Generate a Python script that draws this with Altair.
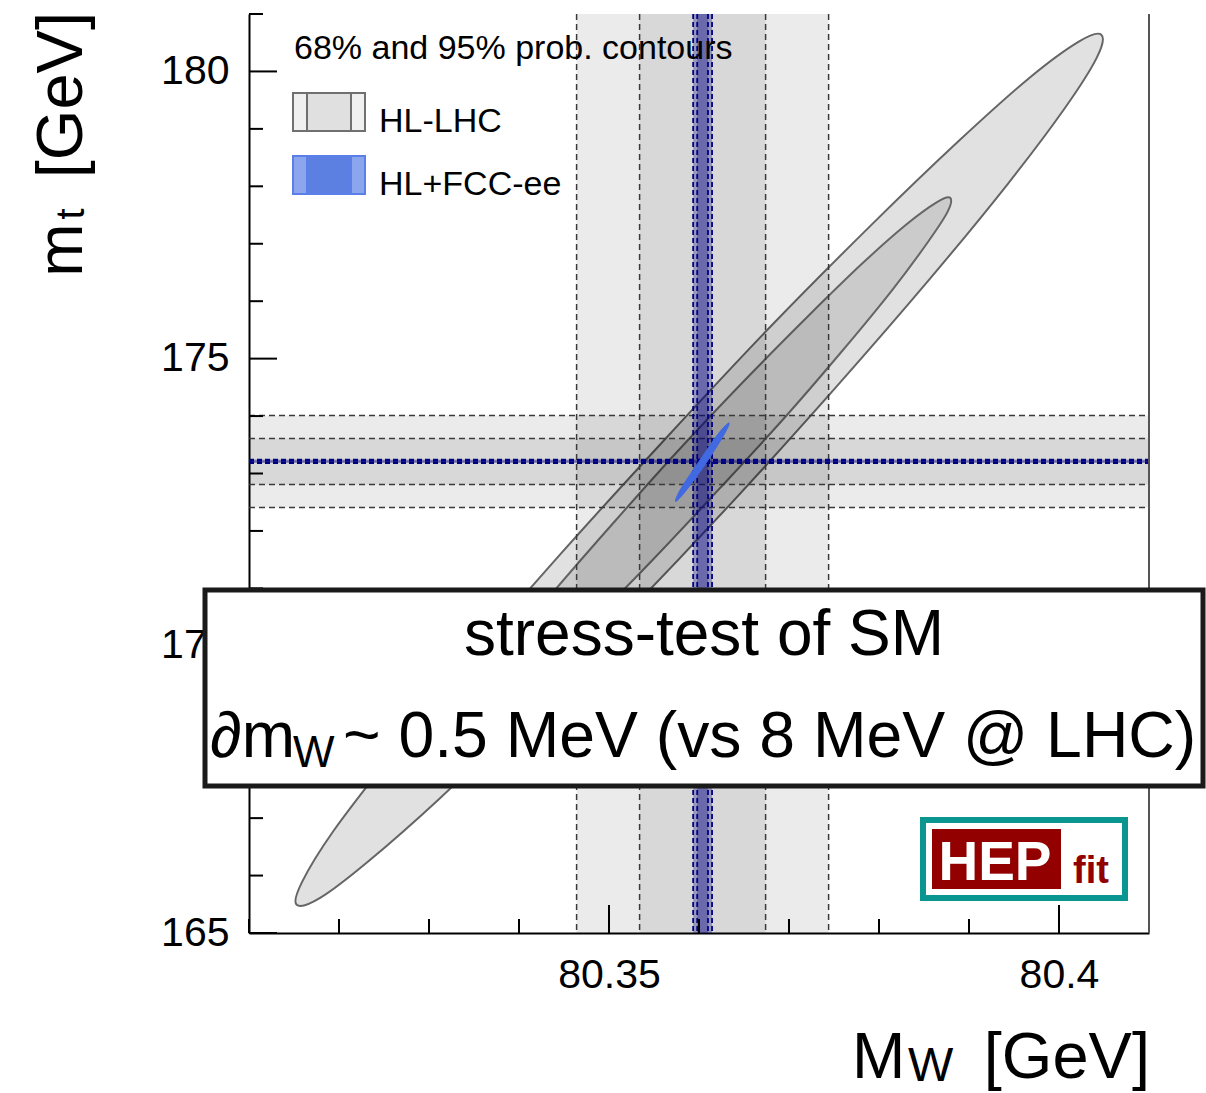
import altair as alt
import pandas as pd

# ---------------- data ----------------
MW_DOMAIN = [80.31, 80.41]
MT_DOMAIN = [165.0, 181.0]

MW_MAJOR = [80.35, 80.40]
MW_MINOR = [80.31, 80.32, 80.33, 80.34, 80.36, 80.37, 80.38, 80.39, 80.41]
MT_MAJOR = [165, 170, 175, 180]
MT_MINOR = [166, 167, 168, 169, 171, 172, 173, 174, 176, 177, 178, 179, 181]

# HL-LHC 95% probability contour (traced boundary points, in order)
HL95_MW = [80.4047, 80.4042, 80.4006, 80.3943, 80.3856, 80.3752, 80.3638, 80.3521,
           80.3409, 80.3311, 80.3232, 80.3179, 80.3153, 80.3159, 80.3194, 80.3258,
           80.3344, 80.3448, 80.3563, 80.3679, 80.3791, 80.3890, 80.3968, 80.4022]
HL95_MT = [180.64, 180.24, 179.35, 178.04, 176.38, 174.50, 172.52, 170.58,
           168.81, 167.33, 166.24, 165.61, 165.49, 165.89, 166.78, 168.09,
           169.75, 171.63, 173.61, 175.55, 177.32, 178.81, 179.90, 180.52]

# HL-LHC 68% probability contour
HL68_MW = [80.3879, 80.3876, 80.3853, 80.3814, 80.3760, 80.3695, 80.3623, 80.3550,
           80.3481, 80.3419, 80.3370, 80.3337, 80.3321, 80.3325, 80.3347, 80.3387,
           80.3441, 80.3506, 80.3577, 80.3650, 80.3720, 80.3781, 80.3830, 80.3864]
HL68_MT = [177.80, 177.55, 177.00, 176.18, 175.15, 173.97, 172.74, 171.52,
           170.42, 169.49, 168.81, 168.41, 168.34, 168.58, 169.14, 169.96,
           170.99, 172.16, 173.40, 174.61, 175.72, 176.65, 177.33, 177.72]

# HL+FCC-ee contour
FCC_MW = [80.36335, 80.3627, 80.3607, 80.3585, 80.3574, 80.3580, 80.3601, 80.3622]
FCC_MT = [173.880, 173.655, 173.162, 172.690, 172.514, 172.739, 173.232, 173.704]

# one-dimensional bands: centre, 68% half-width, 95% half-width
HL_MW_BAND = [80.3604, 0.0070, 0.0140]
HL_MT_BAND = [173.21, 0.40, 0.80]
FCC_MW_BAND = [80.3604, 0.0006, 0.00105]
FCC_MT_BAND = [173.213, 0.015, 0.030]

LEGEND_HEADER = "68% and 95% prob. contours"
LEGEND_LABELS = ["HL-LHC", "HL+FCC-ee"]
BOX_LINE1 = "stress-test of SM"
BOX_LINE2_A = "\u2202m"
BOX_LINE2_SUB = "W"
BOX_LINE2_B = "~ 0.5 MeV (vs 8 MeV @ LHC)"

# ---------------- helpers ----------------
W, H = 900, 919
FONT = "Liberation Sans"
xs = alt.Scale(domain=MW_DOMAIN, nice=False, zero=False)
ys = alt.Scale(domain=MT_DOMAIN, nice=False, zero=False)

XAX = alt.Axis(values=MW_MAJOR, format=".4~g", ticks=False, tickSize=0,
               labelPadding=22, labelFontSize=41, labelFont=FONT,
               labelColor="black", labelFlush=False, labelOverlap=False,
               domainColor="black", domainWidth=2, grid=False, title=None)
YAX = alt.Axis(values=MT_MAJOR, format="d", ticks=False, tickSize=0,
               labelPadding=20, labelFontSize=41, labelFont=FONT,
               labelColor="black", labelFlush=False, labelOverlap=False,
               domainColor="black", domainWidth=2, grid=False, title=None)


def X(field):
    return alt.X(field, scale=xs, axis=XAX)


def Y(field):
    return alt.Y(field, scale=ys, axis=YAX)


def contour(mw, mt, fill, stroke, sw):
    df = pd.DataFrame({"mw": mw, "mt": mt, "i": list(range(len(mw)))})
    return alt.Chart(df).mark_line(
        fill=fill, stroke=stroke, strokeWidth=sw, interpolate="cardinal-closed"
    ).encode(x=X("mw:Q"), y=Y("mt:Q"), order=alt.Order("i:Q"))


def vband(band, color, opacity):
    c, h68, h95 = band
    df = pd.DataFrame({"lo": [c - h95, c - h68], "hi": [c + h95, c + h68]})
    return alt.Chart(df).mark_rect(fill=color, fillOpacity=opacity).encode(
        x=X("lo:Q"), x2="hi:Q", y=alt.value(0), y2=alt.value(H))


def hband(band, color, opacity):
    c, h68, h95 = band
    df = pd.DataFrame({"lo": [c - h95, c - h68], "hi": [c + h95, c + h68]})
    return alt.Chart(df).mark_rect(fill=color, fillOpacity=opacity).encode(
        y=Y("lo:Q"), y2="hi:Q", x=alt.value(0), x2=alt.value(W))


def vdash(band, color, sw, dash):
    c, h68, h95 = band
    df = pd.DataFrame({"v": [c - h95, c - h68, c + h68, c + h95]})
    return alt.Chart(df).mark_rule(color=color, strokeWidth=sw, strokeDash=dash).encode(
        x=X("v:Q"), y=alt.value(0), y2=alt.value(H))


def hdash(band, color, sw, dash):
    c, h68, h95 = band
    df = pd.DataFrame({"v": [c - h95, c - h68, c + h68, c + h95]})
    return alt.Chart(df).mark_rule(color=color, strokeWidth=sw, strokeDash=dash).encode(
        y=Y("v:Q"), x=alt.value(0), x2=alt.value(W))


def txt(text, x, y, size, align="left", angle=0, color="black", weight="normal"):
    df = pd.DataFrame({"t": [text]})
    return alt.Chart(df).mark_text(
        align=align, baseline="alphabetic", angle=angle, fontSize=size,
        font=FONT, fontWeight=weight, color=color
    ).encode(x=alt.value(x), y=alt.value(y), text="t:N")


def box(x, x2, y, y2, fill, stroke=None, sw=0):
    df = pd.DataFrame({"a": [0]})
    kw = dict(fill=fill)
    if stroke is not None:
        kw.update(stroke=stroke, strokeWidth=sw)
    return alt.Chart(df).mark_rect(**kw).encode(
        x=alt.value(x), x2=alt.value(x2), y=alt.value(y), y2=alt.value(y2))


layers = []
# contours
layers.append(contour(HL95_MW, HL95_MT, "#e1e1e1", "#656565", 2))
layers.append(contour(HL68_MW, HL68_MT, "#cbcbcb", "#656565", 2))
# HL-LHC bands
layers.append(vband(HL_MW_BAND, "black", 0.08))
layers.append(hband(HL_MT_BAND, "black", 0.08))
layers.append(vdash(HL_MW_BAND, "#3a3a3a", 1.5, [6, 4]))
layers.append(hdash(HL_MT_BAND, "#3a3a3a", 1.5, [6, 4]))
# FCC bands
layers.append(vband(FCC_MW_BAND, "#000080", 0.3))
layers.append(hband(FCC_MT_BAND, "#000080", 0.3))
layers.append(vdash(FCC_MW_BAND, "#000080", 1.8, [5, 3]))
layers.append(hdash(FCC_MT_BAND, "#000080", 1.8, [5, 3]))
# FCC contour
layers.append(contour(FCC_MW, FCC_MT, "#4169e1", "#4169e1", 1))

# ticks (inward)
layers.append(alt.Chart(pd.DataFrame({"v": MT_MINOR})).mark_rule(color="black", strokeWidth=2).encode(
    y=Y("v:Q"), x=alt.value(0), x2=alt.value(14)))
layers.append(alt.Chart(pd.DataFrame({"v": MT_MAJOR})).mark_rule(color="black", strokeWidth=2).encode(
    y=Y("v:Q"), x=alt.value(0), x2=alt.value(28)))
layers.append(alt.Chart(pd.DataFrame({"v": MW_MINOR})).mark_rule(color="black", strokeWidth=2).encode(
    x=X("v:Q"), y=alt.value(H), y2=alt.value(H - 14)))
layers.append(alt.Chart(pd.DataFrame({"v": MW_MAJOR})).mark_rule(color="black", strokeWidth=2).encode(
    x=X("v:Q"), y=alt.value(H), y2=alt.value(H - 28)))
# right frame
layers.append(alt.Chart(pd.DataFrame({"a": [0]})).mark_rule(color="#555555", strokeWidth=2).encode(
    x=alt.value(W), y=alt.value(0), y2=alt.value(H)))

# legend
layers.append(txt(LEGEND_HEADER, 45, 45, 34))
layers.append(box(44, 116, 79, 117, "#f0f0f0", "#707070", 2))
layers.append(box(58, 102, 79, 117, "#e0e0e0", "#707070", 2))
layers.append(txt(LEGEND_LABELS[0], 130, 118, 34))
layers.append(box(44, 116, 142, 180, "#8ca6ee", "#5b7fe8", 2))
layers.append(box(58, 102, 142, 180, "#5c7fe2", "#5b7fe8", 2))
layers.append(txt(LEGEND_LABELS[1], 130, 181, 34))

# annotation box
layers.append(box(-44, 954, 576, 772, "white", "#1a1a1a", 5))
layers.append(txt(BOX_LINE1, 455, 641, 64, align="center"))
layers.append(txt(BOX_LINE2_A, -39, 743, 64))
layers.append(txt(BOX_LINE2_SUB, 44, 753, 44))
layers.append(txt(BOX_LINE2_B, 94, 743, 64.3))

# HEPfit logo
layers.append(box(674, 876, 806, 884, "white", "#0a9690", 6))
layers.append(box(683, 812, 815, 875, "#920000"))
layers.append(txt("HEP", 746, 866, 55, align="center", color="white", weight="bold"))
layers.append(txt("fit", 824, 869, 38, color="#920000", weight="bold"))

# axis titles
layers.append(txt("[GeV]", -167, -2, 65, align="right", angle=270))
layers.append(txt("t", -165, 200, 40, align="center", angle=270))
layers.append(txt("m", -167, 236, 64, align="center", angle=270))
layers.append(txt("[GeV]", 901, 1064, 65, align="right"))
layers.append(txt("M", 603, 1064, 64))
layers.append(txt("W", 659, 1067, 48))

chart = alt.layer(*layers).properties(
    width=W, height=H,
    padding={"left": 249, "top": 14, "right": 57, "bottom": 160},
    autosize=alt.AutoSizeParams(type="none"),
    background="white",
).configure_view(stroke=None)

chart.save("out.html", embed_options={"renderer": "svg", "actions": False})
